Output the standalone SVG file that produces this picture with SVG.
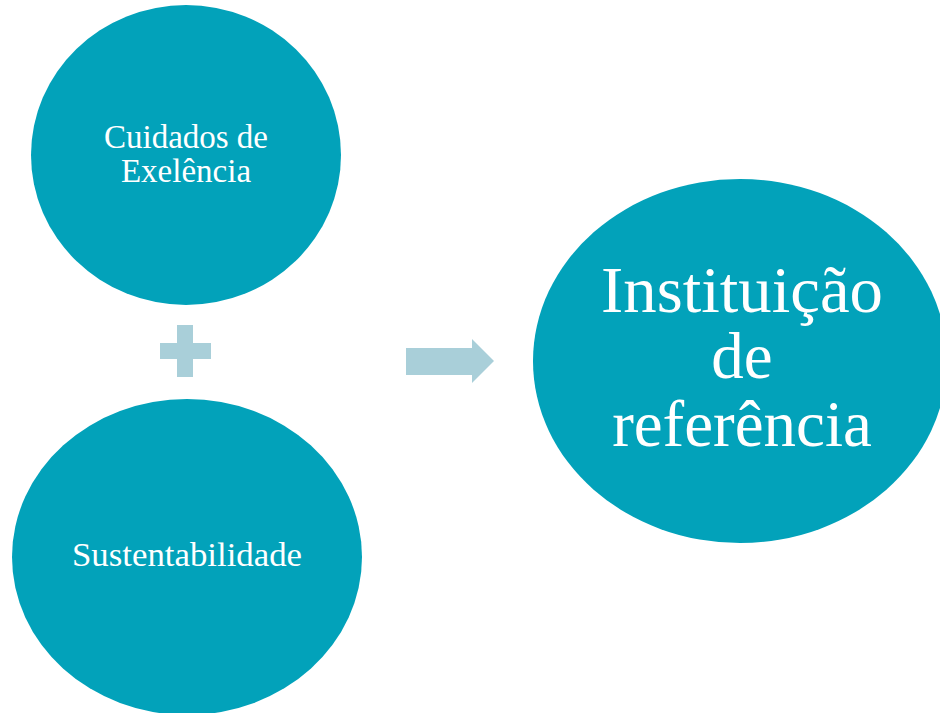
<svg xmlns="http://www.w3.org/2000/svg" width="940" height="713" viewBox="0 0 940 713">
<style>
.node{fill:#02A2BA}
.conn{fill:#A9CFD9}
.t{fill:#FFFFFF;font-family:"Liberation Serif","DejaVu Serif",serif;text-anchor:middle}
.s{font-size:33px}
.b{font-size:65px}
</style>
<rect width="940" height="713" fill="#FFFFFF"/>
<g id="node-cuidados">
<ellipse class="node" cx="186" cy="155" rx="155" ry="150"/>
<text class="t s" x="186" y="148">Cuidados de</text>
<text class="t s" x="186" y="182">Exelência</text>
</g>
<g id="node-sustentabilidade">
<ellipse class="node" cx="187" cy="557" rx="175" ry="158"/>
<text class="t s" x="187" y="566" textLength="230" lengthAdjust="spacingAndGlyphs">Sustentabilidade</text>
</g>
<g id="node-instituicao">
<ellipse class="node" cx="740" cy="361" rx="207" ry="182"/>
<text class="t b" x="742" y="312" textLength="282" lengthAdjust="spacingAndGlyphs">Instituição</text>
<text class="t b" x="742" y="378">de</text>
<text class="t b" x="742" y="446">referência</text>
</g>
<g id="connectors">
<path class="conn" d="M177,325 H193 V343 H211 V359 H193 V377 H177 V359 H160 V343 H177 Z"/>
<path class="conn" d="M406,348 H472 V339 L494,361 L472,383 V375 H406 Z"/>
</g>
</svg>
